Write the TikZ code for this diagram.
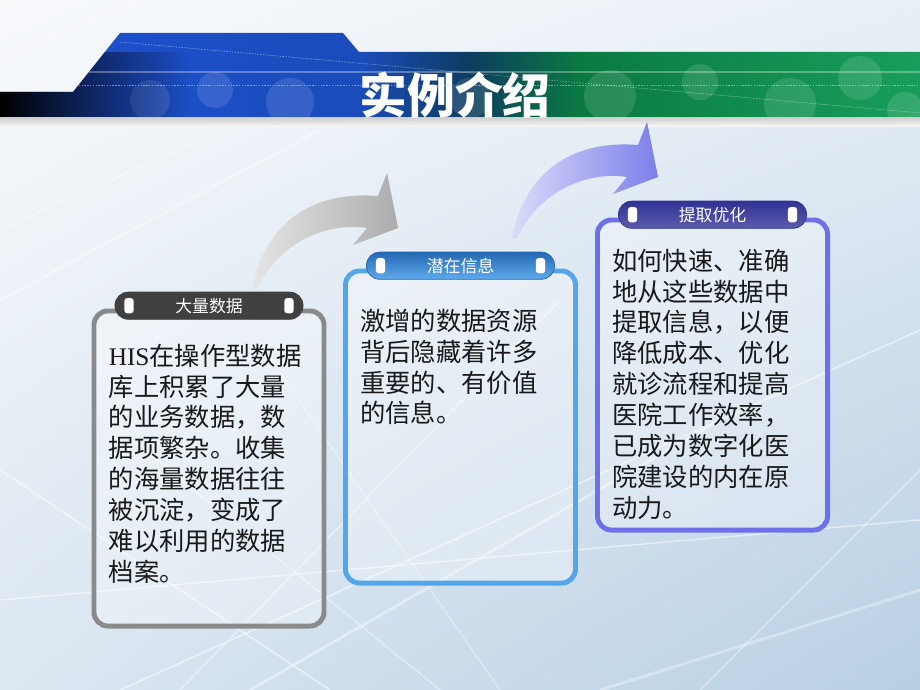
\documentclass[tikz,border=0pt]{standalone}
\usepackage{fontspec}
\setmainfont{Liberation Serif}
\newfontfamily\cjk{Noto Sans CJK SC}
\usepackage{tikz}
\usetikzlibrary{arrows,shapes,positioning,calc,fadings,shadings}

\definecolor{bgA}{RGB}{248,250,252}
\definecolor{bgB}{RGB}{232,239,246}
\definecolor{bgC}{RGB}{220,231,241}
\definecolor{bgD}{RGB}{184,207,228}
\definecolor{hdBlue}{RGB}{30,80,210}
\definecolor{hdMid}{RGB}{12,60,96}
\definecolor{hdGreen}{RGB}{10,122,66}
\definecolor{hdGreenL}{RGB}{24,158,90}
\definecolor{grayLine}{RGB}{138,138,138}
\definecolor{blueLine}{RGB}{84,166,232}
\definecolor{violetLine}{RGB}{110,112,232}
\definecolor{grayTabD}{RGB}{64,64,64}
\definecolor{grayTabL}{RGB}{120,120,120}
\definecolor{blueTabD}{RGB}{36,104,178}
\definecolor{blueTabL}{RGB}{96,170,236}
\definecolor{violetTabD}{RGB}{50,50,150}
\definecolor{violetTabL}{RGB}{112,112,222}

\begin{document}
\begin{tikzpicture}[x=0.025cm,y=-0.025cm,
  panel/.style={draw, line width=3.5pt, rounded corners=0.35cm, minimum width=5.75cm, fill=white, fill opacity=0.3},
  pill/.style={line width=0.5pt, rounded corners=0.33cm, minimum width=4.7cm, minimum height=0.68cm, inner sep=0pt, text=white, font=\cjk\fontsize{12}{12}\selectfont},
  slot/.style={fill=white, rounded corners=2pt, minimum width=0.23cm, minimum height=0.38cm, inner sep=0pt},
  bodytext/.style={anchor=north west, align=left, inner sep=0pt, text=black!90, font=\cjk\fontsize{18}{22}\selectfont},
  ray/.style={white, opacity=0.55, line width=1pt}
]
\useasboundingbox (0,0) rectangle (920,690);

% background
\shade[upper left=bgA, upper right=bgB, lower left=bgC, lower right=bgD] (0,0) rectangle (920,690);
\draw[ray] (120,690) -- (920,330);
\draw[ray, line width=2pt, opacity=.4] (250,690) -- (720,420);
\draw[ray] (330,690) -- (0,470);
\draw[ray, opacity=.4] (440,690) -- (120,430);
\draw[ray] (0,600) -- (920,520);
\draw[ray, line width=2pt, opacity=.35] (600,690) -- (920,590);
\draw[ray, opacity=.45] (180,690) -- (560,300);
\draw[ray, opacity=.35] (500,690) -- (250,330);
\draw[ray, opacity=.5] (0,300) -- (320,130);
\draw[ray, opacity=.4] (0,230) -- (200,140);
\draw[ray, opacity=.4] (700,690) -- (920,470);

% header
\begin{scope}
\clip (0,92) -- (73,92) -- (120,33) -- (343,33) -- (359,52) -- (920,52) -- (920,117) -- (0,117) -- cycle;
\shade[left color=hdBlue, right color=hdBlue!80!hdMid] (0,30) rectangle (360,117);
\shade[left color=hdBlue!80!hdMid, right color=hdMid] (359,30) rectangle (470,117);
\shade[left color=hdMid, right color=hdGreen] (469,30) rectangle (580,117);
\shade[left color=hdGreen, right color=hdGreenL] (579,30) rectangle (920,117);
\foreach \cx/\cy/\r in {150/100/20, 215/90/18, 290/102/24, 470/98/20, 610/96/26, 700/82/18, 790/104/26, 860/78/22, 905/110/18}
  \fill[white, opacity=.12] (\cx,\cy) circle (\r);
\fill[black, path fading=east] (0,52) rectangle (190,117);
\draw[white, opacity=.5, dash pattern=on 1pt off 1pt] (120,42) -- (920,113);
\draw[white, opacity=.45, dash pattern=on 1pt off 1pt] (0,85) -- (920,85);
\draw[white, opacity=.3, line width=2pt] (60,72) -- (920,72);
\end{scope}
\shade[top color=gray!40, bottom color=gray!8] (0,117) rectangle (920,126);
\node[font=\cjk\bfseries\fontsize{34}{34}\selectfont, text=white] (title) at (455,95) {实例介绍};

% curved arrows
\shade[left color=gray!20, right color=gray!65]
  (252,289) .. controls (262,235) and (300,190) .. (378,196) -- (387,173) -- (398,228)
  -- (353,245) -- (367,228) .. controls (330,222) and (280,240) .. (257,289) -- cycle;
\shade[shift={(260,-51)}, left color=violetLine!25, right color=violetLine!90]
  (252,289) .. controls (262,235) and (300,190) .. (378,196) -- (387,173) -- (398,228)
  -- (353,245) -- (367,228) .. controls (330,222) and (280,240) .. (257,289) -- cycle;

% panels
\node[panel, draw=grayLine, minimum height=7.875cm] (dataBox) at (209,468.5) {};
\node[panel, draw=blueLine, minimum height=7.8cm] (infoBox) at (460.5,427) {};
\node[panel, draw=violetLine, minimum height=7.75cm] (optBox) at (712.5,375) {};

% tabs
\node[pill, draw=grayTabD, top color=grayTabD, middle color=grayTabL, bottom color=grayTabD] (dataTab) at ([yshift=2pt]dataBox.north) {大量数据};
\node[pill, draw=blueTabD, top color=blueTabD, bottom color=blueTabL] (infoTab) at ([yshift=2pt]infoBox.north) {潜在信息};
\node[pill, draw=violetTabD, top color=violetTabD, middle color=violetTabL, bottom color=violetTabD!80] (optTab) at ([yshift=2pt]optBox.north) {提取优化};
\node[slot] (dataTabL) at ([xshift=0.36cm]dataTab.west) {};
\node[slot] (dataTabR) at ([xshift=-0.36cm]dataTab.east) {};
\node[slot] (infoTabL) at ([xshift=0.36cm]infoTab.west) {};
\node[slot] (infoTabR) at ([xshift=-0.36cm]infoTab.east) {};
\node[slot] (optTabL) at ([xshift=0.36cm]optTab.west) {};
\node[slot] (optTabR) at ([xshift=-0.36cm]optTab.east) {};

% texts
\node[bodytext] (dataText) at ([shift={(17,35)}]dataBox.north west)
  {{\rmfamily HIS}在操作型数据\\库上积累了大量\\的业务数据，数\\据项繁杂。收集\\的海量数据往往\\被沉淀，变成了\\难以利用的数据\\档案。};
\node[bodytext] (infoText) at ([shift={(17,40)}]infoBox.north west)
  {激增的数据资源\\背后隐藏着许多\\重要的、有价值\\的信息。};
\node[bodytext] (optText) at ([shift={(17,31)}]optBox.north west)
  {如何快速、准确\\地从这些数据中\\提取信息，以便\\降低成本、优化\\就诊流程和提高\\医院工作效率，\\已成为数字化医\\院建设的内在原\\动力。};

\end{tikzpicture}
\end{document}
